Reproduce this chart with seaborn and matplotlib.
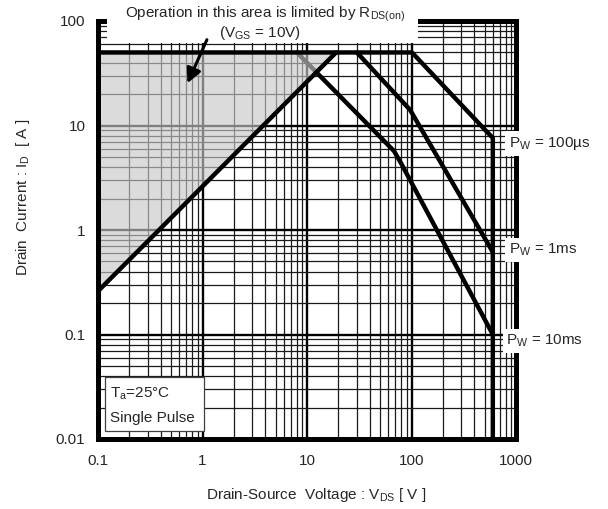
import numpy as np
import pandas as pd
import seaborn as sns
import matplotlib
matplotlib.use("Agg")
import matplotlib.pyplot as plt
from matplotlib.patches import Rectangle
from matplotlib.ticker import LogLocator, NullFormatter, FixedLocator, FixedFormatter

# values (V_DS in volts, I_D in amps)
v_rds = [0.1, 19]
i_rds = [0.26, 50]

v_100us = [0.1, 101, 505, 600, 600]
i_100us = [50, 50, 9.1, 7.6, 0.01]

v_1ms = [30, 97, 600]
i_1ms = [50, 14.1, 0.615]

v_10ms = [8, 68, 80, 600]
i_10ms = [50, 5.7, 4.3, 0.1]

x_ticks = [0.1, 1, 10, 100, 1000]
x_tick_labels = ["0.1", "1", "10", "100", "1000"]
y_ticks = [0.01, 0.1, 1, 10, 100]
y_tick_labels = ["0.01", "0.1", "1", "10", "100"]

pulse_labels = [r"P$_\mathregular{W}$ = 100µs", r"P$_\mathregular{W}$ = 1ms", r"P$_\mathregular{W}$ = 10ms"]
pulse_label_y = [6.2, 0.589, 0.0794]
pulse_label_x = [0.984, 0.984, 0.977]

FS = 11

sns.set_style("white")
plt.rcParams["font.family"] = ["Liberation Sans", "DejaVu Sans"]
plt.rcParams["mathtext.fontset"] = "custom"
plt.rcParams["mathtext.rm"] = "Liberation Sans"
plt.rcParams["mathtext.it"] = "Liberation Sans:italic"
plt.rcParams["mathtext.bf"] = "Liberation Sans:bold"

df = pd.concat([
    pd.DataFrame({"V": v_rds, "I": i_rds, "curve": "rds"}),
    pd.DataFrame({"V": v_100us, "I": i_100us, "curve": "100us"}),
    pd.DataFrame({"V": v_1ms, "I": i_1ms, "curve": "1ms"}),
    pd.DataFrame({"V": v_10ms, "I": i_10ms, "curve": "10ms"}),
], ignore_index=True)

fig = plt.figure(figsize=(6.08, 5.09), dpi=100)
ax = fig.add_axes([98 / 608, 1 - 439 / 509, 418 / 608, 418 / 509])
ax.set_xscale("log")
ax.set_yscale("log")
ax.set_xlim(0.1, 1000)
ax.set_ylim(0.01, 100)

# log grid, decades heavier
ax.xaxis.set_minor_locator(LogLocator(base=10, subs=np.arange(2, 10)))
ax.yaxis.set_minor_locator(LogLocator(base=10, subs=np.arange(2, 10)))
ax.xaxis.set_minor_formatter(NullFormatter())
ax.yaxis.set_minor_formatter(NullFormatter())
ax.set_axisbelow(True)
ax.grid(which="major", color="black", lw=1.7)
ax.grid(which="minor", color="0.1", lw=0.9)

# 10ms line sits under the shaded area so its top end looks grey
sns.lineplot(data=df[df.curve == "10ms"], x="V", y="I", units="curve", estimator=None,
             sort=False, color="black", lw=3.2, ax=ax, zorder=1, legend=False)
ax.fill([v_rds[0], v_rds[0], v_rds[1]], [i_rds[0], i_100us[0], i_rds[1]],
        color="0.785", alpha=0.64, lw=0, zorder=1.5)
sns.lineplot(data=df[df.curve != "10ms"], x="V", y="I", units="curve", estimator=None,
             sort=False, color="black", lw=3.2, ax=ax, zorder=3, legend=False)

ax.xaxis.set_major_locator(FixedLocator(x_ticks))
ax.xaxis.set_major_formatter(FixedFormatter(x_tick_labels))
ax.yaxis.set_major_locator(FixedLocator(y_ticks))
ax.yaxis.set_major_formatter(FixedFormatter(y_tick_labels))
ax.tick_params(which="both", length=0, labelsize=FS)
ax.tick_params(axis="x", pad=11)
ax.tick_params(axis="y", pad=9)

for s in ax.spines.values():
    s.set_visible(True)
    s.set_color("black")
    s.set_linewidth(3.6)

ax.set_xlabel(r"Drain-Source  Voltage : V$_\mathregular{DS}$ [ V ]", fontsize=FS)
ax.set_ylabel(r"Drain  Current : I$_\mathregular{D}$  [ A ]", fontsize=FS)
ax.xaxis.set_label_coords(0.5215, -0.134)
ax.yaxis.set_label_coords(-0.18, 0.579)
ax.xaxis.label.set_va("center")
ax.yaxis.label.set_va("center")

# white patch behind the top note, it hides the top spine
ax.add_patch(Rectangle((0.0215, 0.947), 0.745, 0.11, transform=ax.transAxes,
                       facecolor="white", edgecolor="none", clip_on=False, zorder=4))
ax.text(0.40, 1.007, r"Operation in this area is limited by R$_\mathregular{DS(on)}$",
        transform=ax.transAxes, ha="center", va="baseline", fontsize=FS, zorder=5)
ax.text(0.388, 0.962, r"(V$_\mathregular{GS}$ = 10V)",
        transform=ax.transAxes, ha="center", va="baseline", fontsize=FS, zorder=5)
ax.annotate("", xy=(0.7, 24), xytext=(1.13, 70),
            arrowprops=dict(arrowstyle="-|>", lw=2.2, color="black", mutation_scale=22),
            zorder=5)

for lab, yv, xv in zip(pulse_labels, pulse_label_y, pulse_label_x):
    ax.text(xv, yv, lab, transform=ax.get_yaxis_transform(), ha="left", va="baseline",
            fontsize=FS, zorder=5, clip_on=False,
            bbox=dict(boxstyle="square,pad=0.25", facecolor="white", edgecolor="none"))

# condition box, lower left
ax.add_patch(Rectangle((0.0167, 0.019), 0.237, 0.129, transform=ax.transAxes,
                       facecolor="white", edgecolor="0.25", lw=0.9, zorder=4))
ax.text(0.0287, 0.098, r"T$_\mathregular{a}$=25°C", transform=ax.transAxes,
        ha="left", va="baseline", fontsize=FS, zorder=5)
ax.text(0.0287, 0.0407, "Single Pulse", transform=ax.transAxes,
        ha="left", va="baseline", fontsize=FS, zorder=5)

fig.savefig("out.png", dpi=100)
